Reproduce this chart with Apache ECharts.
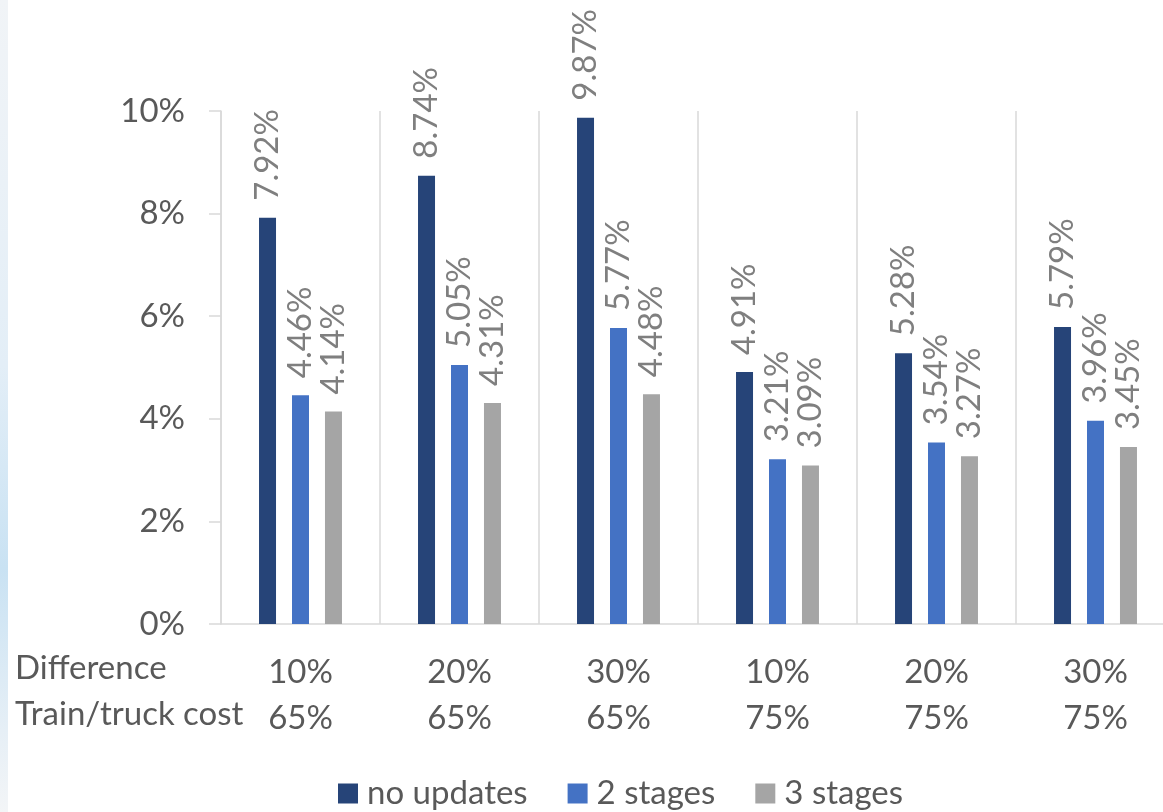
<!DOCTYPE html>
<html>
<head>
<meta charset="utf-8">
<script src="https://cdn.jsdelivr.net/npm/echarts@6/dist/echarts.min.js"></script>
<style>
html,body{margin:0;padding:0;background:#fff;overflow:hidden;}
#c{width:1176px;height:812px;}
</style>
</head>
<body>
<div id="c"></div>
<script>
const difference = ['10%', '20%', '30%', '10%', '20%', '30%'];
const trainTruckCost = ['65%', '65%', '65%', '75%', '75%', '75%'];
const rowLabels = ['Difference', 'Train/truck cost'];
const seriesNames = ['no updates', '2 stages', '3 stages'];
const noUpdates = [7.92, 8.74, 9.87, 4.91, 5.28, 5.79];
const stages2 = [4.46, 5.05, 5.77, 3.21, 3.54, 3.96];
const stages3 = [4.14, 4.31, 4.48, 3.09, 3.27, 3.45];
const yTicks = { min: 0, max: 10, interval: 2 };

const colors = ['#264478', '#4472C4', '#A5A5A5'];
const FONT = 'Lato';
const categories = difference.map((d, i) => d + '\n' + trainTruckCost[i]);

const chart = echarts.init(document.getElementById('c'));
const labelCfg = {
  show: true,
  position: 'top',
  rotate: 90,
  align: 'left',
  verticalAlign: 'middle',
  distance: 17,
  color: '#7F7F7F',
  fontFamily: FONT,
  fontSize: 33,
  formatter: p => p.value.toFixed(2) + '%'
};
const mk = (name, data, color) => ({
  name, type: 'bar', data, barWidth: 17, barGap: '94%',
  itemStyle: { color }, label: labelCfg
});

chart.setOption({
  animation: false,
  color: colors,
  graphic: [
    {
      type: 'rect', left: 0, top: 0, shape: { x: 0, y: 0, width: 8, height: 812 },
      style: { fill: new echarts.graphic.LinearGradient(0, 0, 0, 1, [
        { offset: 0, color: '#f1f4f7' },
        { offset: 0.45, color: '#e3eef7' },
        { offset: 0.7, color: '#c9e2f3' },
        { offset: 0.9, color: '#e6eff6' },
        { offset: 1, color: '#f3f5f7' }
      ]) },
      silent: true
    },
    { type: 'text', left: 15, top: 672 - 20, style: { text: rowLabels[0], fill: '#595959', font: '33px ' + FONT } },
    { type: 'text', left: 15, top: 718 - 20, style: { text: rowLabels[1], fill: '#595959', font: '33px ' + FONT } }
  ],
  grid: { left: 221, top: 111, width: 954, height: 513, containLabel: false },
  legend: {
    left: 333, top: 772,
    itemWidth: 20, itemHeight: 20, itemGap: 40,
    icon: 'rect',
    textStyle: { color: '#595959', fontFamily: FONT, fontSize: 33, padding: [0, 0, 0, 4] },
    data: seriesNames
  },
  xAxis: {
    type: 'category',
    data: categories,
    axisLine: { show: true, lineStyle: { color: '#D9D9D9', width: 1.5 } },
    axisTick: { show: false },
    splitLine: { show: true, lineStyle: { color: '#D9D9D9', width: 1.5 } },
    axisLabel: { color: '#595959', fontFamily: FONT, fontSize: 33, lineHeight: 46, margin: 25, interval: 0 }
  },
  yAxis: {
    type: 'value',
    min: yTicks.min, max: yTicks.max, interval: yTicks.interval,
    axisLine: { show: true, lineStyle: { color: '#D9D9D9', width: 1.5 } },
    axisTick: { show: true, length: 12, lineStyle: { color: '#D9D9D9', width: 1.5 } },
    splitLine: { show: false },
    axisLabel: { color: '#595959', fontFamily: FONT, fontSize: 33, margin: 36, formatter: '{value}%' }
  },
  series: [
    mk(seriesNames[0], noUpdates, colors[0]),
    mk(seriesNames[1], stages2, colors[1]),
    mk(seriesNames[2], stages3, colors[2])
  ]
});
</script>
</body>
</html>
